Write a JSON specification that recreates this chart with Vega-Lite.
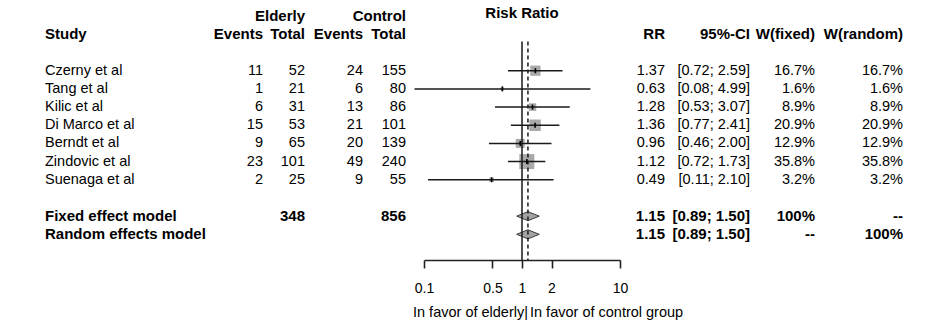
{
  "$schema": "https://vega.github.io/schema/vega-lite/v6.json",
  "width": 948,
  "height": 260,
  "padding": 0,
  "background": "white",
  "config": {
    "view": {"stroke": null},
    "text": {"font": "Liberation Sans", "fontSize": 14.5, "color": "#000000"},
    "axis": {
      "labelFont": "Liberation Sans", "labelFontSize": 14, "labelColor": "#000000",
      "domainColor": "#222222", "domainWidth": 1.6, "tickColor": "#222222", "tickWidth": 1.6,
      "tickSize": 8, "labelPadding": 13, "grid": false, "labelFlush": false, "labelOverlap": false, "labelBound": false
    }
  },
  "datasets": {
    "studies": [
      {"order": 0, "study": "Czerny et al", "e_ev": 11, "e_tot": 52, "c_ev": 24, "c_tot": 155, "rr": 1.37, "lo": 0.72, "hi": 2.59, "ci": "[0.72; 2.59]", "wf": 0.167, "wr": 0.167},
      {"order": 1, "study": "Tang et al", "e_ev": 1, "e_tot": 21, "c_ev": 6, "c_tot": 80, "rr": 0.63, "lo": 0.08, "hi": 4.99, "ci": "[0.08; 4.99]", "wf": 0.016, "wr": 0.016},
      {"order": 2, "study": "Kilic et al", "e_ev": 6, "e_tot": 31, "c_ev": 13, "c_tot": 86, "rr": 1.28, "lo": 0.53, "hi": 3.07, "ci": "[0.53; 3.07]", "wf": 0.089, "wr": 0.089},
      {"order": 3, "study": "Di Marco et al", "e_ev": 15, "e_tot": 53, "c_ev": 21, "c_tot": 101, "rr": 1.36, "lo": 0.77, "hi": 2.41, "ci": "[0.77; 2.41]", "wf": 0.209, "wr": 0.209},
      {"order": 4, "study": "Berndt et al", "e_ev": 9, "e_tot": 65, "c_ev": 20, "c_tot": 139, "rr": 0.96, "lo": 0.46, "hi": 2.0, "ci": "[0.46; 2.00]", "wf": 0.129, "wr": 0.129},
      {"order": 5, "study": "Zindovic et al", "e_ev": 23, "e_tot": 101, "c_ev": 49, "c_tot": 240, "rr": 1.12, "lo": 0.72, "hi": 1.73, "ci": "[0.72; 1.73]", "wf": 0.358, "wr": 0.358},
      {"order": 6, "study": "Suenaga et al", "e_ev": 2, "e_tot": 25, "c_ev": 9, "c_tot": 55, "rr": 0.49, "lo": 0.11, "hi": 2.1, "ci": "[0.11; 2.10]", "wf": 0.032, "wr": 0.032}
    ],
    "bold": [
      {"order": -3, "study": "", "e_ev": "", "e_tot": "Elderly", "c_ev": "", "c_tot": "Control", "rr": "", "ci": "", "wf": "", "wr": ""},
      {"order": -2, "study": "Study", "e_ev": "Events", "e_tot": "Total", "c_ev": "Events", "c_tot": "Total", "rr": "RR", "ci": "95%-CI", "wf": "W(fixed)", "wr": "W(random)"},
      {"order": 8, "study": "Fixed effect model", "e_ev": "", "e_tot": "348", "c_ev": "", "c_tot": "856", "rr": "1.15", "ci": "[0.89; 1.50]", "wf": "100%", "wr": "--"},
      {"order": 9, "study": "Random effects model", "e_ev": "", "e_tot": "", "c_ev": "", "c_tot": "", "rr": "1.15", "ci": "[0.89; 1.50]", "wf": "--", "wr": "100%"}
    ],
    "pooled": [
      {"order": 8, "model": "Fixed effect model", "est": 1.15, "lo": 0.89, "hi": 1.5},
      {"order": 9, "model": "Random effects model", "est": 1.15, "lo": 0.89, "hi": 1.5}
    ],
    "reflines": [
      {"line": "no effect", "value": 1},
      {"line": "pooled estimate", "value": 1.15}
    ],
    "notes": [
      {"label": "Risk Ratio", "order": -3, "at": 1, "part": "header"},
      {"label": "In favor of elderly|", "order": 13.3, "at": 1, "part": "left"},
      {"label": "In favor of control group", "order": 13.3, "at": 1, "part": "right"}
    ]
  },
  "resolve": {"scale": {"x": "independent"}},
  "layer": [
    {
      "encoding": {
        "y": {"field": "order", "type": "quantitative", "scale": {"domain": [-3.889, 10.412], "reverse": true, "nice": false, "zero": false}, "axis": null}
      },
      "layer": [
        {"data": {"name": "studies"}, "mark": {"type": "text", "align": "left"}, "encoding": {"x": {"datum": 0, "type": "quantitative", "scale": {"domain": [0,1,2,3,4,5,6,7,8], "range": [45,263,305,363,406,665,750,815,903], "nice": false, "zero": false}, "axis": null}, "text": {"field": "study", "type": "nominal"}}},
        {"data": {"name": "studies"}, "mark": {"type": "text", "align": "right"}, "encoding": {"x": {"datum": 1, "type": "quantitative", "scale": {"domain": [0,1,2,3,4,5,6,7,8], "range": [45,263,305,363,406,665,750,815,903], "nice": false, "zero": false}, "axis": null}, "text": {"field": "e_ev", "type": "nominal"}}},
        {"data": {"name": "studies"}, "mark": {"type": "text", "align": "right"}, "encoding": {"x": {"datum": 2, "type": "quantitative", "scale": {"domain": [0,1,2,3,4,5,6,7,8], "range": [45,263,305,363,406,665,750,815,903], "nice": false, "zero": false}, "axis": null}, "text": {"field": "e_tot", "type": "nominal"}}},
        {"data": {"name": "studies"}, "mark": {"type": "text", "align": "right"}, "encoding": {"x": {"datum": 3, "type": "quantitative", "scale": {"domain": [0,1,2,3,4,5,6,7,8], "range": [45,263,305,363,406,665,750,815,903], "nice": false, "zero": false}, "axis": null}, "text": {"field": "c_ev", "type": "nominal"}}},
        {"data": {"name": "studies"}, "mark": {"type": "text", "align": "right"}, "encoding": {"x": {"datum": 4, "type": "quantitative", "scale": {"domain": [0,1,2,3,4,5,6,7,8], "range": [45,263,305,363,406,665,750,815,903], "nice": false, "zero": false}, "axis": null}, "text": {"field": "c_tot", "type": "nominal"}}},
        {"data": {"name": "studies"}, "mark": {"type": "text", "align": "right"}, "encoding": {"x": {"datum": 5, "type": "quantitative", "scale": {"domain": [0,1,2,3,4,5,6,7,8], "range": [45,263,305,363,406,665,750,815,903], "nice": false, "zero": false}, "axis": null}, "text": {"field": "rr", "type": "quantitative", "format": ".2f"}}},
        {"data": {"name": "studies"}, "mark": {"type": "text", "align": "right"}, "encoding": {"x": {"datum": 6, "type": "quantitative", "scale": {"domain": [0,1,2,3,4,5,6,7,8], "range": [45,263,305,363,406,665,750,815,903], "nice": false, "zero": false}, "axis": null}, "text": {"field": "ci", "type": "nominal"}}},
        {"data": {"name": "studies"}, "mark": {"type": "text", "align": "right"}, "encoding": {"x": {"datum": 7, "type": "quantitative", "scale": {"domain": [0,1,2,3,4,5,6,7,8], "range": [45,263,305,363,406,665,750,815,903], "nice": false, "zero": false}, "axis": null}, "text": {"field": "wf", "type": "quantitative", "format": ".1%"}}},
        {"data": {"name": "studies"}, "mark": {"type": "text", "align": "right"}, "encoding": {"x": {"datum": 8, "type": "quantitative", "scale": {"domain": [0,1,2,3,4,5,6,7,8], "range": [45,263,305,363,406,665,750,815,903], "nice": false, "zero": false}, "axis": null}, "text": {"field": "wr", "type": "quantitative", "format": ".1%"}}},
        {"data": {"name": "bold"}, "mark": {"type": "text", "align": "left", "fontWeight": "bold", "fontSize": 15}, "encoding": {"x": {"datum": 0, "type": "quantitative", "scale": {"domain": [0,1,2,3,4,5,6,7,8], "range": [45,263,305,363,406,665,750,815,903], "nice": false, "zero": false}, "axis": null}, "text": {"field": "study", "type": "nominal"}}},
        {"data": {"name": "bold"}, "mark": {"type": "text", "align": "right", "fontWeight": "bold", "fontSize": 15}, "encoding": {"x": {"datum": 1, "type": "quantitative", "scale": {"domain": [0,1,2,3,4,5,6,7,8], "range": [45,263,305,363,406,665,750,815,903], "nice": false, "zero": false}, "axis": null}, "text": {"field": "e_ev", "type": "nominal"}}},
        {"data": {"name": "bold"}, "mark": {"type": "text", "align": "right", "fontWeight": "bold", "fontSize": 15}, "encoding": {"x": {"datum": 2, "type": "quantitative", "scale": {"domain": [0,1,2,3,4,5,6,7,8], "range": [45,263,305,363,406,665,750,815,903], "nice": false, "zero": false}, "axis": null}, "text": {"field": "e_tot", "type": "nominal"}}},
        {"data": {"name": "bold"}, "mark": {"type": "text", "align": "right", "fontWeight": "bold", "fontSize": 15}, "encoding": {"x": {"datum": 3, "type": "quantitative", "scale": {"domain": [0,1,2,3,4,5,6,7,8], "range": [45,263,305,363,406,665,750,815,903], "nice": false, "zero": false}, "axis": null}, "text": {"field": "c_ev", "type": "nominal"}}},
        {"data": {"name": "bold"}, "mark": {"type": "text", "align": "right", "fontWeight": "bold", "fontSize": 15}, "encoding": {"x": {"datum": 4, "type": "quantitative", "scale": {"domain": [0,1,2,3,4,5,6,7,8], "range": [45,263,305,363,406,665,750,815,903], "nice": false, "zero": false}, "axis": null}, "text": {"field": "c_tot", "type": "nominal"}}},
        {"data": {"name": "bold"}, "mark": {"type": "text", "align": "right", "fontWeight": "bold", "fontSize": 15}, "encoding": {"x": {"datum": 5, "type": "quantitative", "scale": {"domain": [0,1,2,3,4,5,6,7,8], "range": [45,263,305,363,406,665,750,815,903], "nice": false, "zero": false}, "axis": null}, "text": {"field": "rr", "type": "nominal"}}},
        {"data": {"name": "bold"}, "mark": {"type": "text", "align": "right", "fontWeight": "bold", "fontSize": 15}, "encoding": {"x": {"datum": 6, "type": "quantitative", "scale": {"domain": [0,1,2,3,4,5,6,7,8], "range": [45,263,305,363,406,665,750,815,903], "nice": false, "zero": false}, "axis": null}, "text": {"field": "ci", "type": "nominal"}}},
        {"data": {"name": "bold"}, "mark": {"type": "text", "align": "right", "fontWeight": "bold", "fontSize": 15}, "encoding": {"x": {"datum": 7, "type": "quantitative", "scale": {"domain": [0,1,2,3,4,5,6,7,8], "range": [45,263,305,363,406,665,750,815,903], "nice": false, "zero": false}, "axis": null}, "text": {"field": "wf", "type": "nominal"}}},
        {"data": {"name": "bold"}, "mark": {"type": "text", "align": "right", "fontWeight": "bold", "fontSize": 15}, "encoding": {"x": {"datum": 8, "type": "quantitative", "scale": {"domain": [0,1,2,3,4,5,6,7,8], "range": [45,263,305,363,406,665,750,815,903], "nice": false, "zero": false}, "axis": null}, "text": {"field": "wr", "type": "nominal"}}}
      ]
    },
    {
      "layer": [
        {"data": {"name": "studies"}, "mark": {"type": "point", "shape": "square", "filled": true, "color": "#a9a9a9", "opacity": 1, "strokeWidth": 0},
         "encoding": {"x": {"field": "rr", "type": "quantitative", "scale": {"type": "log", "domain": [0.1, 10], "range": [424, 620], "nice": false}, "axis": {"title": null, "values": [0.1, 0.5, 1, 2, 10], "format": "~g", "orient": "bottom"}},
                      "y": {"field": "order", "type": "quantitative", "axis": null},
                      "size": {"field": "wf", "type": "quantitative", "scale": {"domain": [0, 0.4], "range": [0, 251]}, "legend": null}}},
        {"data": {"name": "pooled"}, "mark": {"type": "point", "shape": "M-1,0L0,-0.4L1,0L0,0.4Z", "size": 511, "filled": true, "fill": "#a3a3a3", "stroke": "#3a3a3a", "strokeWidth": 1, "opacity": 1},
         "encoding": {"x": {"field": "est", "type": "quantitative", "scale": {"type": "log", "domain": [0.1, 10], "range": [424, 620], "nice": false}, "axis": {"title": null, "values": [0.1, 0.5, 1, 2, 10], "format": "~g", "orient": "bottom"}},
                      "y": {"field": "order", "type": "quantitative", "axis": null}}},
        {"data": {"name": "studies"}, "mark": {"type": "rule", "color": "#1a1a1a", "strokeWidth": 1.5},
         "encoding": {"x": {"field": "lo", "type": "quantitative", "scale": {"type": "log", "domain": [0.1, 10], "range": [424, 620], "nice": false}, "axis": {"title": null, "values": [0.1, 0.5, 1, 2, 10], "format": "~g", "orient": "bottom"}}, "x2": {"field": "hi"},
                      "y": {"field": "order", "type": "quantitative", "axis": null}}},
        {"data": {"name": "reflines"}, "mark": {"type": "rule", "color": "#1a1a1a", "strokeWidth": 1.5},
         "encoding": {"x": {"field": "value", "type": "quantitative", "scale": {"type": "log", "domain": [0.1, 10], "range": [424, 620], "nice": false}, "axis": {"title": null, "values": [0.1, 0.5, 1, 2, 10], "format": "~g", "orient": "bottom"}},
                      "y": {"datum": -1.6, "type": "quantitative", "axis": null}, "y2": {"datum": 10.412},
                      "strokeDash": {"field": "line", "type": "nominal", "scale": {"domain": ["no effect", "pooled estimate"], "range": [[1, 0], [4, 3]]}, "legend": null}}},
        {"data": {"name": "studies"}, "mark": {"type": "tick", "orient": "vertical", "size": 5, "thickness": 1.6, "color": "#000000", "opacity": 1},
         "encoding": {"x": {"field": "rr", "type": "quantitative", "scale": {"type": "log", "domain": [0.1, 10], "range": [424, 620], "nice": false}, "axis": {"title": null, "values": [0.1, 0.5, 1, 2, 10], "format": "~g", "orient": "bottom"}},
                      "y": {"field": "order", "type": "quantitative", "axis": null}}},
        {"data": {"name": "notes"}, "transform": [{"filter": "datum.part == 'header'"}], "mark": {"type": "text", "align": "center", "fontWeight": "bold", "fontSize": 15, "dy": -3},
         "encoding": {"x": {"field": "at", "type": "quantitative", "scale": {"type": "log", "domain": [0.1, 10], "range": [424, 620], "nice": false}, "axis": {"title": null, "values": [0.1, 0.5, 1, 2, 10], "format": "~g", "orient": "bottom"}}, "y": {"field": "order", "type": "quantitative", "axis": null}, "text": {"field": "label", "type": "nominal"}}},
        {"data": {"name": "notes"}, "transform": [{"filter": "datum.part == 'left'"}], "mark": {"type": "text", "align": "right", "dx": 6},
         "encoding": {"x": {"field": "at", "type": "quantitative", "scale": {"type": "log", "domain": [0.1, 10], "range": [424, 620], "nice": false}, "axis": {"title": null, "values": [0.1, 0.5, 1, 2, 10], "format": "~g", "orient": "bottom"}}, "y": {"field": "order", "type": "quantitative", "axis": null}, "text": {"field": "label", "type": "nominal"}}},
        {"data": {"name": "notes"}, "transform": [{"filter": "datum.part == 'right'"}], "mark": {"type": "text", "align": "left", "dx": 8},
         "encoding": {"x": {"field": "at", "type": "quantitative", "scale": {"type": "log", "domain": [0.1, 10], "range": [424, 620], "nice": false}, "axis": {"title": null, "values": [0.1, 0.5, 1, 2, 10], "format": "~g", "orient": "bottom"}}, "y": {"field": "order", "type": "quantitative", "axis": null}, "text": {"field": "label", "type": "nominal"}}}
      ]
    }
  ]
}
